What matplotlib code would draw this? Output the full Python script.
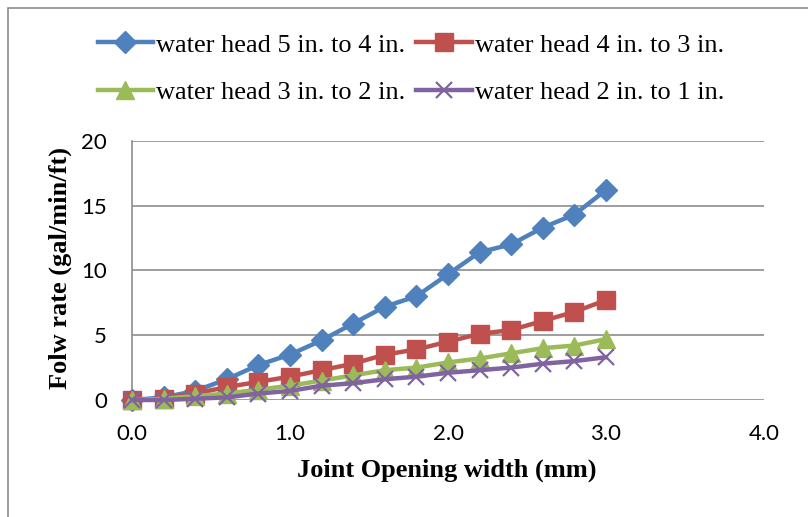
import matplotlib
matplotlib.use("Agg")
import matplotlib.pyplot as plt
from matplotlib.patches import Rectangle
import numpy as np

# joint opening width (mm)
width_mm = [0.0, 0.2, 0.4, 0.6, 0.8, 1.0, 1.2, 1.4, 1.6, 1.8, 2.0, 2.2, 2.4, 2.6, 2.8, 3.0]

# flow rate (gal/min/ft)
head_5_4 = [0.0, 0.2, 0.7, 1.6, 2.7, 3.5, 4.6, 5.9, 7.2, 8.0, 9.7, 11.4, 12.0, 13.3, 14.3, 16.2]
head_4_3 = [0.0, 0.1, 0.5, 1.0, 1.4, 1.8, 2.3, 2.8, 3.5, 3.9, 4.5, 5.1, 5.4, 6.1, 6.8, 7.7]
head_3_2 = [0.0, 0.1, 0.3, 0.5, 0.8, 1.1, 1.5, 1.9, 2.3, 2.5, 2.9, 3.2, 3.6, 4.0, 4.2, 4.7]
head_2_1 = [0.0, 0.0, 0.1, 0.2, 0.5, 0.7, 1.1, 1.3, 1.6, 1.8, 2.1, 2.3, 2.5, 2.8, 3.0, 3.3]

labels = ["water head 5 in. to 4 in.", "water head 4 in. to 3 in.",
          "water head 3 in. to 2 in.", "water head 2 in. to 1 in."]
x_ticks = [0, 1, 2, 3, 4]
y_ticks = [0, 5, 10, 15, 20]

serif = "Liberation Serif"
sans = "Lato"
grey = "#8c8c8c"

fig = plt.figure(figsize=(8.08, 5.17), dpi=100)
ax = fig.add_axes([132/808, 1-400/517, (764-132)/808, (400-140.7)/517])

# outer chart border (cropped at right / bottom)
fig.patches.append(Rectangle((8/808, -0.1), 1.2, 1-8/517+0.1, transform=fig.transFigure,
                             fill=False, edgecolor=grey, lw=1.2))

h1, = ax.plot(width_mm, head_5_4, color="#4F81BD", lw=3.2, marker="D", ms=11, clip_on=False, zorder=3)
h2, = ax.plot(width_mm, head_4_3, color="#C0504D", lw=3.2, marker="s", ms=13, clip_on=False, zorder=4)
h3, = ax.plot(width_mm, head_3_2, color="#9BBB59", lw=3.2, marker="^", ms=13, clip_on=False, zorder=5)
h4, = ax.plot(width_mm, head_2_1, color="#8064A2", lw=3.2, marker="x", ms=12, mew=1.6, clip_on=False, zorder=6)

ax.set_xlim(0, 4)
ax.set_ylim(0, 20)
ax.set_xticks(x_ticks)
ax.set_xticklabels(["%.1f" % t for t in x_ticks], fontfamily=sans, fontsize=16)
ax.set_yticks(y_ticks)
ax.set_yticklabels([str(t) for t in y_ticks], fontfamily=sans, fontsize=16)
ax.tick_params(length=0)
ax.tick_params(axis="x", pad=17)
ax.tick_params(axis="y", pad=18)

for s in ["top", "right", "bottom"]:
    ax.spines[s].set_visible(False)
ax.spines["left"].set_color(grey)
ax.spines["left"].set_linewidth(1.2)
ax.yaxis.grid(True, color=grey, lw=1.2)
ax.set_axisbelow(True)

fig.text(447/808, 1-470/517, "Joint Opening width (mm)", fontfamily=serif, fontweight="bold",
         fontsize=19, ha="center", va="center")
fig.text(60/808, 1-268/517, "Folw rate (gal/min/ft)", fontfamily=serif, fontweight="bold",
         fontsize=19, ha="center", va="center", rotation=90)

fig.legend([h1, h3, h2, h4], [labels[0], labels[2], labels[1], labels[3]], ncol=2,
           loc="center", bbox_to_anchor=(411/808, 1-68.5/517), frameon=False,
           prop={"family": serif, "size": 19}, handlelength=2.1, handletextpad=0.12,
           columnspacing=0.42, labelspacing=0.9, borderpad=0)

fig.savefig("out.png", dpi=100)
